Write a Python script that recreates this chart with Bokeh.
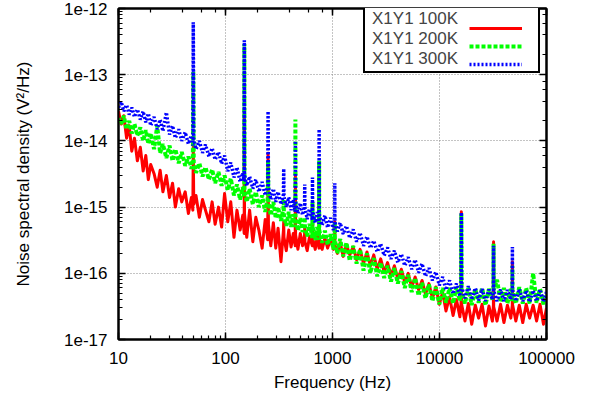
from bokeh.plotting import figure
from bokeh.models import (LogAxis, LogTicker, CustomJSTickFormatter, Legend, LegendItem)
from bokeh.embed import file_html
from bokeh.resources import INLINE

# ---- data ----
freq = [10, 10.6, 11.2, 11.9, 12.6, 13.3, 14.1, 15, 16, 17, 18, 19, 20, 21.5, 23, 24.5, 26, 28, 30, 32,
        34, 36.5, 39, 42, 45, 48, 49.5, 50, 50.5, 53, 57, 61, 65, 70, 75, 80, 86, 92, 98, 105,
        112, 120, 128, 137, 145, 149.5, 150, 150.5, 158, 168, 180, 192, 205, 220, 235, 248, 250, 252, 265, 280,
        295, 310, 330, 348, 350, 352, 370, 390, 410, 430, 448, 450, 452, 475, 500, 525, 548, 550, 552, 580,
        610, 648, 650, 652, 690, 720, 748, 750, 752, 800, 850, 900, 960, 1020, 1048, 1050, 1052, 1110, 1180, 1260,
        1350, 1450, 1560, 1680, 1810, 1950, 2100, 2260, 2430, 2620, 2820, 3040, 3270, 3520, 3790, 4080, 4400, 4740, 5100, 5500,
        5920, 6380, 6870, 7400, 7970, 8590, 9250, 9960, 10700, 11500, 12400, 13400, 14400, 15500, 15900, 16000, 16100, 17300, 18600, 20000,
        21600, 23200, 25000, 26900, 29000, 31200, 31900, 32000, 32100, 34500, 37200, 40000, 43100, 46400, 47900, 48000, 48100, 51700, 55700, 60000,
        64600, 69600, 75000, 80800, 87000, 93700, 100000]

psd_100k = [2.8e-14, 1.8e-14, 2.4e-14, 1.1e-14, 1.7e-14, 7e-15, 1.1e-14, 5e-15, 8e-15, 3.5e-15, 6e-15, 2.6e-15, 4.4e-15, 3.2e-15, 2e-15, 3.6e-15, 1.7e-15, 3e-15, 1.4e-15, 2.3e-15,
            1.0e-15, 1.9e-15, 1.2e-15, 1.7e-15, 8e-16, 1.4e-15, 9e-16, 8e-15, 1.1e-15, 1.5e-15, 7e-16, 1.3e-15, 9e-16, 6e-16, 1.2e-15, 5.5e-16, 1.0e-15, 5e-16, 1.6e-15, 6e-16,
            1.2e-15, 3.5e-16, 9e-16, 4.5e-16, 7.5e-16, 4e-16, 3e-14, 8e-16, 3.5e-16, 9e-16, 3e-16, 7e-16, 4.5e-16, 2.4e-16, 6.5e-16, 3.2e-16, 6.5e-15, 5.5e-16, 2.6e-16, 5.8e-16,
            2.4e-16, 4.8e-16, 1.5e-16, 4.5e-16, 6e-16, 3.5e-16, 2.2e-16, 4.5e-16, 2.5e-16, 4e-16, 2.6e-16, 3e-15, 3.8e-16, 2.3e-16, 4e-16, 2.6e-16, 3.8e-16, 5e-16, 3e-16, 2.2e-16,
            3.6e-16, 2.6e-16, 1.1e-15, 3.4e-16, 2.3e-16, 3.6e-16, 2.4e-16, 4e-15, 3.3e-16, 2.3e-16, 3.4e-16, 2.4e-16, 3.3e-16, 2.3e-16, 3e-16, 6e-16, 2.7e-16, 2.0e-16, 2.9e-16, 1.8e-16,
            2.7e-16, 1.9e-16, 2.5e-16, 1.6e-16, 2.3e-16, 1.4e-16, 2.1e-16, 1.3e-16, 1.9e-16, 1.15e-16, 1.65e-16, 1.05e-16, 1.45e-16, 9.2e-17, 1.3e-16, 8.2e-17, 1.15e-16, 7.2e-17, 1.0e-16, 6.2e-17,
            8.8e-17, 5.6e-17, 7.8e-17, 4.8e-17, 7e-17, 4.2e-17, 6.2e-17, 3.4e-17, 5.2e-17, 2.7e-17, 4.4e-17, 2.3e-17, 4e-17, 2.2e-17, 3.5e-17, 8.5e-16, 3.4e-17, 1.9e-17, 3.5e-17, 1.7e-17,
            3.3e-17, 2.1e-17, 3.4e-17, 1.6e-17, 3.2e-17, 1.9e-17, 3.3e-17, 3e-16, 3.1e-17, 1.9e-17, 3.4e-17, 1.8e-17, 3.3e-17, 2.1e-17, 3.3e-17, 1.5e-16, 3.4e-17, 1.9e-17, 3.3e-17, 1.8e-17,
            3.4e-17, 2.1e-17, 3.3e-17, 1.9e-17, 3.4e-17, 1.7e-17, 3e-17]

psd_200k = [2.2e-14, 1.8e-14, 2.4e-14, 1.5e-14, 2.0e-14, 1.3e-14, 1.8e-14, 1.2e-14, 1.6e-14, 1.0e-14, 1.45e-14, 9e-15, 1.3e-14, 7.5e-15, 1.7e-14, 6.5e-15, 9e-15, 5.5e-15, 8.5e-15, 5e-15,
            7.5e-15, 4.6e-15, 6.8e-15, 4.2e-15, 5.8e-15, 3.8e-15, 5e-15, 1.1e-13, 4.6e-15, 3.3e-15, 4.6e-15, 2.9e-15, 4e-15, 2.6e-15, 3.7e-15, 2.3e-15, 3.4e-15, 2.1e-15, 3e-15, 1.8e-15,
            2.7e-15, 1.5e-15, 2.2e-15, 1.3e-15, 2.0e-15, 1.4e-15, 2.9e-13, 1.8e-15, 1.2e-15, 1.9e-15, 1.1e-15, 1.7e-15, 1.0e-15, 1.5e-15, 8.5e-16, 1.35e-15, 5e-15, 1.2e-15, 7.5e-16, 1.2e-15,
            6.8e-16, 1.0e-15, 6.2e-16, 9.5e-16, 1.3e-15, 7.5e-16, 5.2e-16, 8.5e-16, 5e-16, 7.8e-16, 5e-16, 2.1e-14, 7e-16, 4.4e-16, 6.8e-16, 4.2e-16, 6.2e-16, 7e-16, 5.2e-16, 3.6e-16,
            5.6e-16, 3.4e-16, 1.2e-15, 5e-16, 3.2e-16, 5e-16, 3.2e-16, 5e-15, 4.5e-16, 2.9e-16, 4.4e-16, 2.7e-16, 3.9e-16, 2.3e-16, 3.6e-16, 6e-16, 3.2e-16, 2.0e-16, 3.3e-16, 1.8e-16,
            2.9e-16, 1.55e-16, 2.6e-16, 1.4e-16, 2.3e-16, 1.1e-16, 2.0e-16, 1.0e-16, 1.7e-16, 9e-17, 1.45e-16, 8.5e-17, 1.3e-16, 7.5e-17, 1.2e-16, 7e-17, 1.08e-16, 6e-17, 9.5e-17, 5.2e-17,
            8.5e-17, 4.6e-17, 7.2e-17, 4.2e-17, 6.8e-17, 3.8e-17, 6.2e-17, 3.4e-17, 6e-17, 3.6e-17, 6e-17, 3.5e-17, 6.2e-17, 3.8e-17, 6e-17, 8e-16, 5.6e-17, 3.5e-17, 6e-17, 3.3e-17,
            5.8e-17, 3.6e-17, 6e-17, 3.3e-17, 5.8e-17, 4e-17, 5.8e-17, 2.8e-16, 5.6e-17, 8e-17, 3.7e-17, 6e-17, 3.5e-17, 5.8e-17, 3.8e-17, 1.3e-16, 5.6e-17, 3.5e-17, 6.2e-17, 3.5e-17,
            6e-17, 3.5e-17, 1.0e-16, 3.6e-17, 5.8e-17, 3.4e-17, 4.6e-17]

psd_300k = [3.2e-14, 3.9e-14, 2.8e-14, 3.5e-14, 2.5e-14, 3.2e-14, 2.3e-14, 3.0e-14, 2.1e-14, 2.8e-14, 1.9e-14, 2.6e-14, 1.7e-14, 2.3e-14, 1.5e-14, 2.1e-14, 1.4e-14, 2.7e-14, 1.25e-14, 1.7e-14,
            1.1e-14, 1.5e-14, 1.0e-14, 1.35e-14, 9e-15, 1.2e-14, 8.5e-15, 6.2e-13, 1.05e-14, 7.5e-15, 1.0e-14, 6.6e-15, 8.8e-15, 5.8e-15, 7.8e-15, 5.2e-15, 6.8e-15, 4.5e-15, 6e-15, 3.5e-15,
            4.7e-15, 2.8e-15, 4e-15, 2.4e-15, 3.3e-15, 2.5e-15, 3.3e-13, 3.1e-15, 2.1e-15, 2.9e-15, 1.9e-15, 2.6e-15, 1.7e-15, 2.4e-15, 1.5e-15, 2.1e-15, 2.8e-14, 2.0e-15, 1.3e-15, 1.9e-15,
            1.2e-15, 1.7e-15, 1.1e-15, 1.55e-15, 3.8e-15, 1.45e-15, 1.0e-15, 1.4e-15, 9e-16, 1.3e-15, 8.5e-16, 1e-14, 1.2e-15, 8e-16, 1.15e-15, 7.6e-16, 1.05e-15, 2.2e-15, 1.0e-15, 6.6e-16,
            9.4e-16, 6.4e-16, 2.8e-15, 8.8e-16, 5.8e-16, 8.4e-16, 5.6e-16, 1.5e-14, 7.8e-16, 5.3e-16, 7.5e-16, 4.9e-16, 6.9e-16, 4.5e-16, 6.2e-16, 2.3e-15, 6e-16, 4.3e-16, 5.8e-16, 3.9e-16,
            5.2e-16, 3.4e-16, 4.6e-16, 3.0e-16, 4.1e-16, 2.6e-16, 3.6e-16, 2.4e-16, 3.1e-16, 2.1e-16, 2.8e-16, 1.85e-16, 2.45e-16, 1.65e-16, 2.2e-16, 1.45e-16, 1.95e-16, 1.3e-16, 1.75e-16, 1.15e-16,
            1.6e-16, 1.02e-16, 1.4e-16, 9e-17, 1.2e-16, 7.8e-17, 1.05e-16, 6.6e-17, 8.8e-17, 5.6e-17, 7.8e-17, 4.9e-17, 7e-17, 4.5e-17, 6.4e-17, 8.3e-16, 6.2e-17, 4.2e-17, 6.4e-17, 4e-17,
            6e-17, 3.9e-17, 5.8e-17, 3.8e-17, 5.7e-17, 4e-17, 5.6e-17, 2.6e-16, 5.5e-17, 3.8e-17, 5.7e-17, 3.8e-17, 5.6e-17, 4e-17, 5.7e-17, 2.5e-16, 5.5e-17, 3.8e-17, 5.8e-17, 3.8e-17,
            5.5e-17, 3.7e-17, 5.5e-17, 3.8e-17, 5.7e-17, 3.7e-17, 5.2e-17]

series_labels = ["X1Y1 100K", "X1Y1 200K", "X1Y1 300K"]
FONT = "Liberation Sans"

p = figure(width=590, height=395, x_axis_type="log", y_axis_type="log",
           x_range=(10, 100000), y_range=(1e-17, 1e-12),
           output_backend="svg", toolbar_location=None,
           x_axis_label="Frequency (Hz)", y_axis_label="Noise spectral density (V\u00b2/Hz)")
p.min_border_left = 118
p.min_border_right = 44
p.min_border_top = 8
p.min_border_bottom = 56
p.outline_line_color = "black"
p.outline_line_width = 2
p.outline_line_alpha = 1.0
p.background_fill_color = "white"
p.border_fill_color = "white"

r1 = p.line(freq, psd_100k, line_color="#ff0000", line_width=3, line_join="round")
r2 = p.line(freq, psd_200k, line_color="#00ff00", line_width=4, line_dash="4 2")
r3 = p.line(freq, psd_300k, line_color="#0000ff", line_width=3.5, line_dash="2 2")

p.xaxis.formatter = CustomJSTickFormatter(code="return tick.toFixed(0);")
p.yaxis.formatter = CustomJSTickFormatter(code="return tick.toExponential(0).replace('+','');")

def style_ticks(ax):
    ax.major_tick_in = 7
    ax.major_tick_out = 0
    ax.minor_tick_in = 4
    ax.minor_tick_out = 0
    ax.major_tick_line_width = 1.5
    ax.minor_tick_line_width = 1.2
    ax.axis_line_width = 2

for ax in [p.xaxis[0], p.yaxis[0]]:
    style_ticks(ax)
    ax.major_label_text_font = FONT
    ax.major_label_text_font_size = "17px"
    ax.major_label_text_color = "black"
    ax.axis_label_text_font = FONT
    ax.axis_label_text_font_size = "17px"
    ax.axis_label_text_font_style = "normal"
    ax.axis_label_text_color = "black"
p.xaxis.major_label_standoff = 12
p.xaxis.axis_label_standoff = 6
p.yaxis.major_label_standoff = 11
p.yaxis.axis_label_standoff = 28

# mirrored tick axes (top and right), labels hidden
top = LogAxis(ticker=LogTicker())
right = LogAxis(ticker=LogTicker())
for ax in [top, right]:
    style_ticks(ax)
    ax.major_label_text_color = None
    ax.major_label_text_font_size = "2px"
    ax.major_label_standoff = 0
p.add_layout(top, "above")
p.add_layout(right, "right")

p.xgrid.grid_line_color = "#888888"
p.xgrid.grid_line_dash = "1 2"
p.ygrid.grid_line_color = "#888888"
p.ygrid.grid_line_dash = "1 2"

# legend: labels on the left (boxed), line samples on the right
blank = p.line(x=[], y=[], line_alpha=0)
renderers = [r1, r2, r3]
leg_text = Legend(items=[LegendItem(label=l, renderers=[blank]) for l in series_labels],
                  location=(245, 266), glyph_width=1, glyph_height=18, label_height=18,
                  label_standoff=4, label_width=164, padding=2, spacing=0,
                  label_text_font=FONT, label_text_font_size="17px",
                  border_line_color="black", border_line_width=2.5, border_line_alpha=1.0,
                  background_fill_color="white", background_fill_alpha=1.0)
leg_line = Legend(items=[LegendItem(label=" ", renderers=[r]) for r in renderers],
                  location=(351, 266), glyph_width=53, glyph_height=18, label_height=18,
                  label_standoff=1, label_width=1, padding=2, spacing=0,
                  label_text_font=FONT, label_text_font_size="17px", label_text_color=None,
                  border_line_color=None, background_fill_alpha=0.0)
p.add_layout(leg_text, "center")
p.add_layout(leg_line, "center")

open("out.html", "w").write(file_html(p, INLINE))
